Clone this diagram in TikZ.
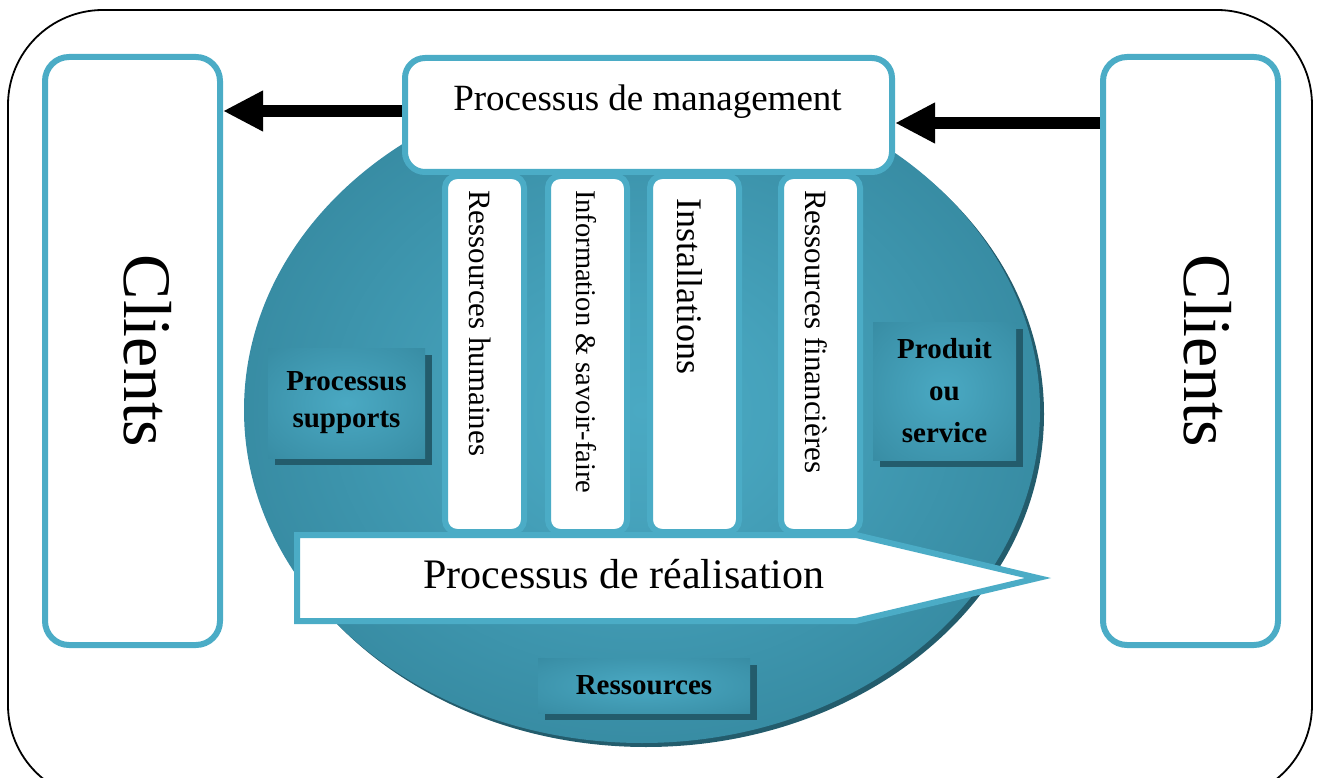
\documentclass[tikz,border=0pt]{standalone}
\usepackage{fontspec}
\setmainfont{Liberation Serif}
\usetikzlibrary{arrows.meta,calc}
\definecolor{teal5}{HTML}{4BACC6}
\definecolor{ovdark}{HTML}{2F7E94}
\definecolor{ovlight}{HTML}{4AA9C3}
\definecolor{shad}{HTML}{235C6C}
\pgfdeclareradialshading{ovshade}{\pgfpoint{0bp}{0bp}}{color(0bp)=(ovlight); color(8bp)=(ovlight!85!ovdark); color(36bp)=(ovdark); color(50bp)=(ovdark)}
\pgfdeclareradialshading{boxshade}{\pgfpoint{0bp}{0bp}}{color(0bp)=(ovlight); color(30bp)=(ovlight!45!ovdark); color(50bp)=(ovdark)}
\begin{document}
\begin{tikzpicture}[x=1pt,y=-1pt,
  clientbox/.style={draw=teal5, line width=6pt, fill=white, rounded corners=24pt,
    minimum width=175pt, minimum height=588pt, inner sep=0pt},
  pillar/.style={draw=teal5, line width=6pt, fill=white, rounded corners=12pt,
    minimum height=356pt, inner sep=0pt},
  mgmtbox/.style={draw=teal5, line width=6pt, fill=white, rounded corners=20pt,
    minimum width=487pt, minimum height=114pt, inner sep=0pt},
  vtext/.style={rotate=-90, anchor=west, inner sep=0pt},
  lblbox/.style={shading=boxshade, inner sep=0pt, align=center,
    font=\bfseries\fontsize{29}{37}\selectfont,
    preaction={fill=shad, transform canvas={xshift=7pt, yshift=-7pt}}},
  bigarrow/.style={line width=12pt, -{Triangle[length=40pt,width=38pt]}}
]
\useasboundingbox (0,0) rectangle (1318,778);
\clip (0,0) rectangle (1318,778);

% outer frame
\draw[line width=1.8pt, rounded corners=95pt] (8,10) rectangle (1312,800);

% clients boxes
\node[clientbox] (clientL) at (132.5,351) {};
\node[clientbox] (clientR) at (1190.5,351) {};
\node[rotate=-90, inner sep=0pt, font=\fontsize{68}{70}\selectfont] (clientLt) at (147.5,351) {Clients};
\node[rotate=-90, inner sep=0pt, font=\fontsize{68}{70}\selectfont] (clientRt) at (1207.5,351) {Clients};

% central oval
\fill[shad] (646,414) ellipse [x radius=398pt, y radius=333pt];
\shade[shading=ovshade] (642,410) ellipse [x radius=398pt, y radius=333pt];

% pillars
\node[pillar, minimum width=79pt] (p1) at (484.5,354) {};
\node[pillar, minimum width=79pt] (p2) at (587.5,354) {};
\node[pillar, minimum width=89pt] (p3) at (694.5,354) {};
\node[pillar, minimum width=79pt] (p4) at (820.5,354) {};
\node[vtext, font=\fontsize{31}{33}\selectfont] (t1) at (480,190) {Ressources humaines};
\node[vtext, font=\fontsize{28.5}{30}\selectfont] (t2) at (586,190) {Information \& savoir-faire};
\node[vtext, font=\fontsize{36}{38}\selectfont] (t3) at (690,198) {Installations};
\node[vtext, font=\fontsize{31}{33}\selectfont] (t4) at (816.5,190) {Ressources financières};

% management
\node[mgmtbox] (mgmt) at (648.5,115) {};
\node[anchor=base, inner sep=0pt, font=\fontsize{37}{40}\selectfont] (mgmtt) at (647.5,111) {Processus de management};

% realisation arrow
\draw[teal5, line width=6pt, fill=white, line join=miter]
  (297,535) -- (856,535) -- (1038,578) -- (856,621) -- (297,621) -- cycle;
\node[anchor=base, inner sep=0pt, font=\fontsize{42}{44}\selectfont] (real) at (624,588) {Processus de réalisation};

% label boxes
\node[lblbox, minimum width=157pt, minimum height=110pt] (sup) at (346.5,403) {Processus\\supports};
\node[lblbox, minimum width=143pt, minimum height=138pt, font=\bfseries\fontsize{29}{42}\selectfont] (prod) at (944.5,391) {\raisebox{-3pt}{Produit}\\\raisebox{-3pt}{ou}\\\raisebox{-3pt}{service}};
\node[lblbox, minimum width=212pt, minimum height=55pt] (res) at (644,685.5) {Ressources};

% black arrows
\coordinate (la) at ($(mgmt.west)+(0,-4)$);
\coordinate (ra) at ($(clientR.west)+(0,-228)$);
\draw[bigarrow] (la) -- (clientL.east |- la);
\draw[bigarrow] (ra) -- (mgmt.east |- ra);
\end{tikzpicture}
\end{document}
